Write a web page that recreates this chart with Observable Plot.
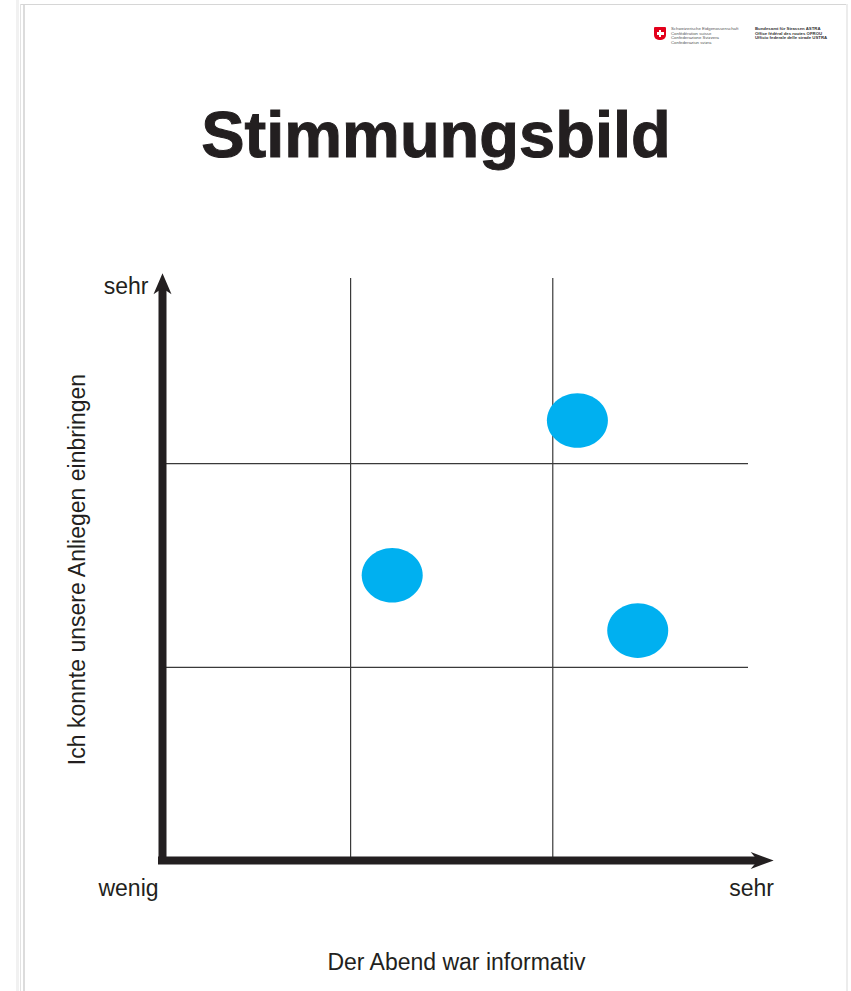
<!DOCTYPE html>
<html>
<head>
<meta charset="utf-8">
<script src="https://cdn.jsdelivr.net/npm/d3@7"></script>
<script src="https://cdn.jsdelivr.net/npm/@observablehq/plot@0.6"></script>
<style>
  html, body { margin: 0; padding: 0; background: #fff; }
  #page { position: relative; width: 851px; height: 991px; overflow: hidden; background: #fff; font-family: "Liberation Sans", Arial, sans-serif; }
  .bline { position: absolute; }
  #title { position: absolute; left: 0; width: 872px; top: 102px; text-align: center; font-size: 65px; line-height: 65px; font-weight: bold; color: #231f20; -webkit-text-stroke: 1px #231f20; letter-spacing: 0px; }
  #chart { position: absolute; left: 0; top: 190px; }
  #logo { position: absolute; left: 654px; top: 27px; }
  .shield { position: absolute; left: 0; top: 0; width: 12px; height: 13px; background: #e3001b; border-radius: 1px 1px 5px 5px; }
  .cross-h { position: absolute; left: 2.5px; top: 5px; width: 7px; height: 2.5px; background: #fff; }
  .cross-v { position: absolute; left: 4.8px; top: 2.7px; width: 2.5px; height: 7px; background: #fff; }
  .ltxt { position: absolute; font-size: 4.3px; line-height: 4.6px; color: #555; white-space: nowrap; }
</style>
</head>
<body>
<div id="page">
  <div class="bline" style="left:16px;top:0;width:3px;height:991px;background:#f1f1f1"></div>
  <div class="bline" style="left:20px;top:4px;width:1px;height:987px;background:#e2e2e2"></div>
  <div class="bline" style="left:23px;top:4px;width:2px;height:987px;background:#dcdcdc"></div>
  <div class="bline" style="left:21px;top:4px;width:826px;height:1px;background:#d6d6d6"></div>
  <div class="bline" style="left:846px;top:4px;width:2px;height:987px;background:#ececec"></div>

  <div id="logo">
    <div class="shield"><div class="cross-h"></div><div class="cross-v"></div></div>
    <div class="ltxt" style="left:17px;top:0px">Schweizerische Eidgenossenschaft<br>Confédération suisse<br>Confederazione Svizzera<br>Confederaziun svizra</div>
    <div class="ltxt" style="left:101px;top:0px;font-weight:bold;color:#333">Bundesamt für Strassen ASTRA<br>Office fédéral des routes OFROU<br>Ufficio federale delle strade USTRA</div>
  </div>

  <div id="title">Stimmungsbild</div>
  <div id="chart"></div>
</div>
<script>
// Data (values on a 0–100 scale)
const informativ = [70.8, 39.2, 81.1];   // x: "Der Abend war informativ"
const anliegen   = [75.6, 49.0, 39.5];   // y: "Ich konnte unsere Anliegen einbringen"
const gridX = [32.1, 66.6];
const gridY = [33.2, 68.2];
const axisTopEnd = 100.9;   // tip of the vertical arrow
const axisRightEnd = 104.3; // tip of the horizontal arrow
const labelLow = "wenig";
const labelHigh = "sehr";
const xLabel = "Der Abend war informativ";
const yLabel = "Ich konnte unsere Anliegen einbringen";

const points = informativ.map((x, i) => ({x, y: anliegen[i]}));

const ink = "#231f20";

// custom symbols
const ellipse = {
  draw(ctx, size) {
    const rx = 30.5, ry = 27.3, k = 0.5523;
    ctx.moveTo(rx, 0);
    ctx.bezierCurveTo(rx, ry * k, rx * k, ry, 0, ry);
    ctx.bezierCurveTo(-rx * k, ry, -rx, ry * k, -rx, 0);
    ctx.bezierCurveTo(-rx, -ry * k, -rx * k, -ry, 0, -ry);
    ctx.bezierCurveTo(rx * k, -ry, rx, -ry * k, rx, 0);
    ctx.closePath();
  }
};
const arrowUp = {
  draw(ctx) {
    ctx.moveTo(0, 0); ctx.lineTo(9, 21); ctx.lineTo(0, 15); ctx.lineTo(-9, 21); ctx.closePath();
  }
};
const arrowRight = {
  draw(ctx) {
    ctx.moveTo(0, 0); ctx.lineTo(-23, 8.5); ctx.lineTo(-16, 0); ctx.lineTo(-23, -8.5); ctx.closePath();
  }
};

const chart = Plot.plot({
  width: 851,
  height: 801,
  marginLeft: 162,
  marginRight: 103,
  marginTop: 88,
  marginBottom: 131,
  x: {domain: [0, 100], axis: null},
  y: {domain: [0, 100], axis: null},
  style: {fontFamily: "Liberation Sans, Arial, sans-serif", color: ink, background: "transparent", overflow: "visible"},
  marks: [
    Plot.ruleX(gridX, {y1: 0, y2: 100, stroke: "#3a3a3a", strokeWidth: 1.2}),
    Plot.ruleY(gridY, {x1: 0, x2: 100, stroke: "#3a3a3a", strokeWidth: 1.2}),
    Plot.ruleX([0], {y1: 0, y2: axisTopEnd - 3, stroke: ink, strokeWidth: 8, strokeLinecap: "square"}),
    Plot.ruleY([0], {x1: 0, x2: axisRightEnd - 3, stroke: ink, strokeWidth: 8, strokeLinecap: "square"}),
    Plot.dot([{x: 0, y: axisTopEnd}], {x: "x", y: "y", symbol: arrowUp, fill: ink, stroke: null, r: 10}),
    Plot.dot([{x: axisRightEnd, y: 0}], {x: "x", y: "y", symbol: arrowRight, fill: ink, stroke: null, r: 10}),
    Plot.dot(points, {x: "x", y: "y", symbol: ellipse, fill: "#00b0f0", stroke: null, r: 29}),
    Plot.text([labelHigh], {frameAnchor: "top-left", textAnchor: "end", lineAnchor: "middle", dx: -14, dy: 8, fontSize: 23, fill: ink}),
    Plot.text([labelLow], {frameAnchor: "bottom-left", textAnchor: "middle", lineAnchor: "middle", dx: -34, dy: 28, fontSize: 23, fill: ink}),
    Plot.text([labelHigh], {frameAnchor: "bottom-right", textAnchor: "middle", lineAnchor: "middle", dx: 3, dy: 28, fontSize: 23, fill: ink}),
    Plot.text([xLabel], {frameAnchor: "bottom", textAnchor: "middle", lineAnchor: "middle", dx: 1, dy: 102, fontSize: 23, fill: ink}),
    Plot.text([yLabel], {frameAnchor: "left", textAnchor: "middle", lineAnchor: "middle", rotate: -90, dx: -85, dy: 0, fontSize: 23, fill: ink})
  ]
});
document.getElementById("chart").appendChild(chart);
</script>
</body>
</html>
